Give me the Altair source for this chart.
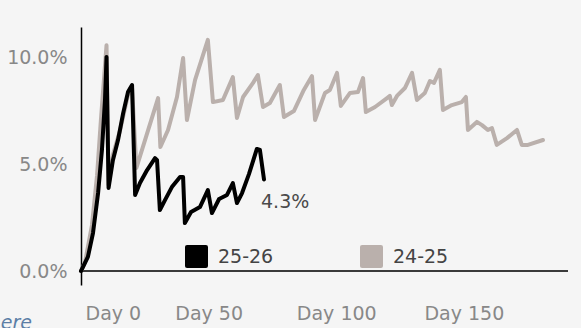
import altair as alt
import pandas as pd

# ---- data ----
black_day = [0, 2.7, 4.7, 6.7, 8.2, 9.4, 10.0, 10.8, 12.5, 14.5, 16.5, 18.4,
             20.0, 21.2, 23.1, 25.9, 29.0, 29.8, 30.9, 32.9, 35.6, 38.8, 40.0, 40.7,
             43.1, 46.6, 49.7, 51.3, 54.1, 57.2, 59.5, 61.1, 63.1, 65.8, 67.4, 68.9,
             70.1, 71.7]
black_pct = [0, 0.66, 1.78, 3.66, 5.68, 8.03, 10.05, 3.9, 5.2, 6.15, 7.4, 8.4,
             8.73, 3.57, 4.13, 4.74, 5.3, 5.2, 2.86, 3.33, 3.94, 4.41, 4.41, 2.25,
             2.77, 3.0, 3.8, 2.72, 3.38, 3.57, 4.13, 3.19, 3.66, 4.55, 5.16, 5.73,
             5.68, 4.3]

grey_day = [0, 1.6, 4.3, 6.3, 7.8, 10.0, 10.8, 12.5, 15.3, 18.4, 20.0, 21.7,
            30.2, 31.1, 34.1, 37.6, 40.0, 41.5, 44.7, 49.7, 51.7, 55.6, 59.5, 61.1,
            63.5, 67.4, 69.3, 71.3, 74.0, 77.9, 79.5, 83.4, 87.3, 90.5, 91.7, 95.6,
            97.5, 100.3, 101.8, 105.4, 108.5, 110.5, 111.6, 115.2, 119.9, 121.0, 121.8, 123.8,
            126.9, 129.7, 131.6, 134.7, 136.7, 138.3, 140.6, 141.8, 145.3, 149.2, 150.8, 151.6,
            155.1, 157.1, 159.4, 161.0, 162.9, 166.9, 170.8, 172.7, 175.1, 181.0]
grey_pct = [0, 0.42, 2.16, 4.5, 7.1, 10.6, 4.04, 5.45, 6.6, 8.26, 8.6, 4.84,
            8.12, 5.82, 6.62, 8.17, 10.0, 7.09, 8.97, 10.85, 7.93, 8.03, 9.1, 7.18,
            8.17, 8.83, 9.2, 7.7, 7.89, 8.73, 7.23, 7.51, 8.5, 9.15, 7.09, 8.36,
            8.5, 9.3, 7.75, 8.36, 8.4, 9.06, 7.46, 7.7, 8.12, 8.22, 7.79, 8.22,
            8.59, 9.3, 8.03, 8.36, 8.92, 8.83, 9.44, 7.56, 7.79, 7.93, 8.17, 6.62,
            7.0, 6.85, 6.62, 6.71, 5.92, 6.24, 6.62, 5.92, 5.92, 6.15]

seasons = ["25-26", "24-25"]
season_colors = ["#000000", "#bab0ac"]
x_ticks = [0, 50, 100, 150]
y_ticks = [0, 0.05, 0.10]
footnote = "where"

FONT = "DejaVu Sans"

df_black = pd.DataFrame({"day": black_day, "rate": [v / 100 for v in black_pct], "season": seasons[0]})
df_grey = pd.DataFrame({"day": grey_day, "rate": [v / 100 for v in grey_pct], "season": seasons[1]})
df_last = pd.DataFrame({"day": [black_day[-1]], "rate": [black_pct[-1] / 100],
                        "label": [f"{black_pct[-1]:.1f}%"]})
df_seasons = pd.DataFrame({"key": seasons})

x_scale = alt.Scale(domain=[0, 190.8], nice=False, zero=False)
y_scale = alt.Scale(domain=[-0.00657, 0.11455], nice=False, zero=False)
color_scale = alt.Scale(domain=seasons, range=season_colors)

rounded_sq = "M-0.82,-1H0.82Q1,-1 1,-0.82V0.82Q1,1 0.82,1H-0.82Q-1,1 -1,0.82V-0.82Q-1,-1 -0.82,-1Z"

x_enc = alt.X("day:Q", scale=x_scale,
              axis=alt.Axis(values=x_ticks, labelExpr="'Day ' + datum.value", title=None,
                            domain=False, ticks=False, grid=False, labelFlush=True,
                            labelFlushOffset=-4, labelPadding=19, labelFontSize=19,
                            labelColor="#888888", labelFont=FONT))
y_enc = alt.Y("rate:Q", scale=y_scale,
              axis=alt.Axis(values=y_ticks, format=".1%", title=None, domain=True,
                            domainColor="#000000", domainWidth=1.5, ticks=False, grid=False,
                            labelPadding=14, labelFontSize=19, labelColor="#888888",
                            labelFont=FONT))

legend = alt.Legend(title=None, orient="none", legendX=104, legendY=218, direction="horizontal",
                    symbolType=rounded_sq, symbolSize=529, symbolStrokeWidth=0, symbolOpacity=1,
                    labelFontSize=19, labelFont=FONT, labelColor="#444444", labelOffset=10,
                    columnPadding=86, padding=0)

zero_rule = alt.Chart(pd.DataFrame({"rate": [0.0]})).mark_rule(
    color="#3a3a3a", strokeWidth=2).encode(y=alt.Y("rate:Q", scale=y_scale))

grey_line = alt.Chart(df_grey).mark_line(strokeWidth=4, strokeJoin="round", strokeCap="round").encode(
    x=x_enc, y=y_enc, stroke=alt.Stroke("season:N", scale=color_scale, legend=None))

black_line = alt.Chart(df_black).mark_line(strokeWidth=4, strokeJoin="round", strokeCap="round").encode(
    x="day:Q", y="rate:Q", stroke=alt.Stroke("season:N", scale=color_scale, legend=None))

legend_layer = alt.Chart(df_seasons).mark_square(size=0, opacity=1, filled=True).encode(
    x=alt.value(0), y=alt.value(0),
    fill=alt.Fill("key:N", scale=color_scale, legend=legend))

end_label = alt.Chart(df_last).mark_text(
    align="left", baseline="middle", dx=-3, dy=23, fontSize=19, font=FONT, color="#4a4a4a"
).encode(x="day:Q", y="rate:Q", text="label:N")

foot = alt.Chart(pd.DataFrame({"t": [footnote]})).mark_text(
    align="right", baseline="alphabetic", fontSize=19, font=FONT, fontStyle="italic",
    color="#5b7ea6"
).encode(x=alt.value(-49), y=alt.value(302), text="t:N")

chart = alt.layer(zero_rule, grey_line, black_line, legend_layer, end_label, foot).properties(
    width=487, height=258,
    autosize=alt.AutoSizeParams(type="none"),
    padding={"left": 81, "top": 27, "right": 13, "bottom": 43},
    background="#f5f5f5",
).resolve_scale(fill="independent", stroke="independent").configure_view(stroke=None)

chart.save("out.html", embed_options={"renderer": "svg", "actions": False})
